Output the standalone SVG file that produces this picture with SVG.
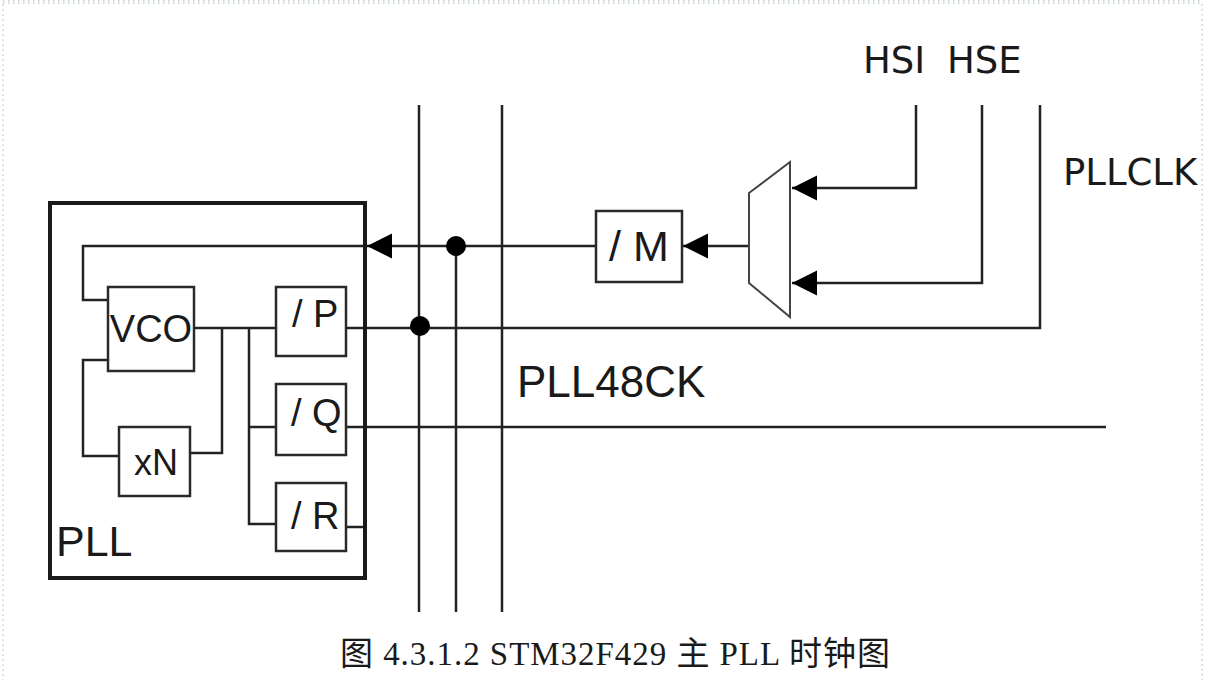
<svg xmlns="http://www.w3.org/2000/svg" width="1205" height="680" viewBox="0 0 1205 680">
<style>
.bg{fill:#fff}
.frame{fill:none;stroke:#c4d0d0;stroke-width:1.5;stroke-dasharray:1.5 3.5}
.box{fill:#fff;stroke:#2a2a2a;stroke-width:2.5}
.pll{fill:none;stroke:#1a1a1a;stroke-width:4}
.w{fill:none;stroke:#222;stroke-width:2.5}
.mux{fill:#fff;stroke:#444;stroke-width:2}
.dot{fill:#000}
.t{font-family:"Liberation Sans",Arial,sans-serif;fill:#1a1a1a}
.v{font-family:"DejaVu Sans",Verdana,sans-serif;fill:#1a1a1a;font-size:37px}
.cap{font-family:"Liberation Serif","Noto Sans CJK SC",serif;fill:#1a1a1a;font-size:33px}
</style>
<defs>
<marker id="arr" viewBox="0 0 10 10" refX="10" refY="5" markerUnits="userSpaceOnUse" markerWidth="25" markerHeight="26" orient="auto">
<path d="M0,0 L10,5 L0,10 z" fill="#000"/>
</marker>
</defs>
<rect class="bg" x="0" y="0" width="1205" height="680"/>
<rect class="frame" x="3" y="3" width="1199" height="690"/>
<line class="frame" x1="3" y1="0.8" x2="1202" y2="0.8"/>

<g id="connectors">
<path class="w" d="M596,246 H367" marker-end="url(#arr)"/>
<path class="w" d="M365,246 H83 V300 H108"/>
<path class="w" d="M108,360 H83 V456 H119"/>
<path class="w" d="M190,453 H222 V328"/>
<path class="w" d="M194,328 H276"/>
<path class="w" d="M249,328 V524 H276"/>
<path class="w" d="M249,427 H276"/>
<path class="w" d="M346,328 H1040 V105"/>
<path class="w" d="M346,427 H1106"/>
<path class="w" d="M346,527 H365"/>
<path class="w" d="M419,105 V612"/>
<path class="w" d="M456,246 V612"/>
<path class="w" d="M502,105 V612"/>
<path class="w" d="M916,105 V188 H792" marker-end="url(#arr)"/>
<path class="w" d="M982,105 V283 H792" marker-end="url(#arr)"/>
<path class="w" d="M749,246 H683" marker-end="url(#arr)"/>
<circle class="dot" cx="420" cy="326" r="10"/>
<circle class="dot" cx="456" cy="246" r="10"/>
</g>

<g id="pll">
<rect class="pll" x="50" y="203" width="315" height="375"/>
<text class="t" x="56" y="556" font-size="43">PLL</text>
</g>
<g id="vco">
<rect class="box" x="108" y="287" width="86" height="84"/>
<text class="t" x="151" y="342" font-size="38" text-anchor="middle">VCO</text>
</g>
<g id="xn">
<rect class="box" x="119" y="427" width="71" height="69"/>
<text class="t" x="156" y="475" font-size="36" text-anchor="middle">xN</text>
</g>
<g id="divp">
<rect class="box" x="276" y="287" width="70" height="69"/>
<text class="t" x="292" y="327" font-size="38">/ P</text>
</g>
<g id="divq">
<rect class="box" x="276" y="384" width="70" height="71"/>
<text class="t" x="291" y="426" font-size="38">/ Q</text>
</g>
<g id="divr">
<rect class="box" x="276" y="483" width="70" height="68"/>
<text class="t" x="291" y="529" font-size="38">/ R</text>
</g>
<g id="divm">
<rect class="box" x="596" y="211" width="86" height="71"/>
<text class="t" x="609" y="261" font-size="43">/ M</text>
</g>
<g id="mux">
<polygon class="mux" points="749,193 790,162 790,317 749,283"/>
</g>
<g id="labels">
<text class="v" x="863" y="73">HSI</text>
<text class="v" x="947" y="73">HSE</text>
<text class="v" x="1063" y="185">PLLCLK</text>
<text class="t" x="517" y="397" font-size="44">PLL48CK</text>
</g>
<g id="caption">
<text class="cap" x="340" y="665" textLength="550" lengthAdjust="spacing">图 4.3.1.2 STM32F429 主 PLL 时钟图</text>
</g>
</svg>
